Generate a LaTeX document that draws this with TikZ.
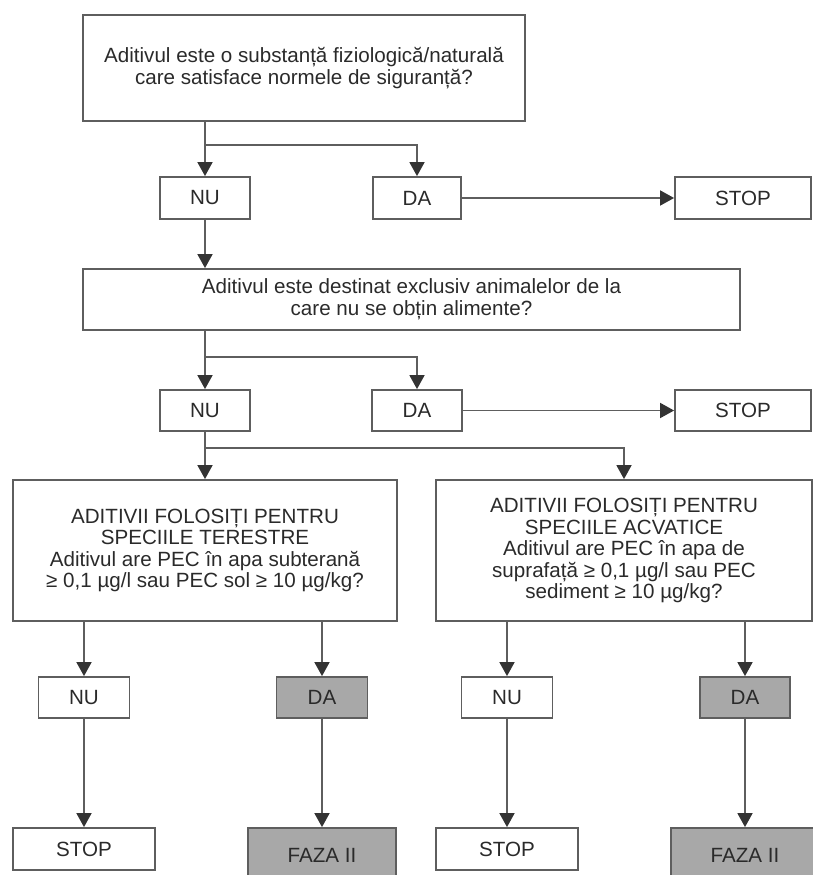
\documentclass[tikz,border=0pt]{standalone}
\usepackage{fontspec}
\setmainfont{Liberation Sans}
\usetikzlibrary{arrows.meta}
\definecolor{linegray}{HTML}{5E5E5E}
\definecolor{textgray}{HTML}{2A2A2A}
\definecolor{boxgray}{HTML}{A8A8A8}

\begin{document}
\begin{tikzpicture}[x=1pt,y=-1pt,
	box/.style={draw=linegray,line width=1.8pt,text=textgray,align=center,inner sep=0pt,font=\fontsize{20.6}{22}\selectfont},
	greybox/.style={box,fill=boxgray},
	link/.style={draw=linegray,line width=1.7pt},
	arr/.style={link,-{Triangle[width=15pt,length=14pt,color=black!80]}}]
	\useasboundingbox (0,0) rectangle (813,875);
	\node[box,minimum width=442pt,minimum height=106pt] (q1) at (304,68) {Aditivul este o substanță fiziologică/naturală\\care satisface normele de siguranță?};
	\node[box,minimum width=90pt,minimum height=42pt] (nu1) at (205,198) {NU};
	\node[box,minimum width=88pt,minimum height=42pt] (da1) at (417,198) {DA};
	\node[box,minimum width=136pt,minimum height=42pt] (stop1) at (743,198) {STOP};
	\node[box,minimum width=657pt,minimum height=61pt] (q2) at (411.5,299.5) {Aditivul este destinat exclusiv animalelor de la\\care nu se obțin alimente?};
	\node[box,minimum width=90pt,minimum height=41pt] (nu2) at (205,410.5) {NU};
	\node[box,minimum width=90pt,minimum height=41pt] (da2) at (417,410.5) {DA};
	\node[box,minimum width=136pt,minimum height=41pt] (stop2) at (743,410.5) {STOP};
	\node[box,minimum width=384pt,minimum height=141pt,font=\fontsize{20.6}{21.5}\selectfont] (terr) at (205,550.5) {ADITIVII FOLOSIȚI PENTRU\\SPECIILE TERESTRE\\Aditivul are PEC în apa subterană\\≥ 0,1 µg/l sau PEC sol ≥ 10 µg/kg?};
	\node[box,minimum width=376pt,minimum height=141pt,font=\fontsize{20.6}{21.5}\selectfont] (acv) at (624,550.5) {ADITIVII FOLOSIȚI PENTRU\\SPECIILE ACVATICE\\Aditivul are PEC în apa de\\suprafață ≥ 0,1 µg/l sau PEC\\sediment ≥ 10 µg/kg?};
	\node[box,minimum width=91pt,minimum height=41pt] (nu3) at (84,697.5) {NU};
	\node[greybox,minimum width=91pt,minimum height=41pt] (da3) at (322,697.5) {DA};
	\node[box,minimum width=142pt,minimum height=42pt] (stop3) at (84,849) {STOP};
	\node[greybox,minimum width=148pt,minimum height=54pt] (faza3) at (322,855) {FAZA II};
	\node[box,minimum width=91pt,minimum height=41pt] (nu4) at (507,697.5) {NU};
	\node[greybox,minimum width=90pt,minimum height=41pt] (da4) at (745,697.5) {DA};
	\node[box,minimum width=142pt,minimum height=42pt] (stop4) at (507,849) {STOP};
	\node[greybox,minimum width=148pt,minimum height=54pt] (faza4) at (745,855) {FAZA II};
	% branch points
	\coordinate (b1) at (205,145);
	\coordinate (b2) at (205,357);
	\coordinate (b3) at (205,448);
	\draw[link] (q1.south -| b1) -- (b1);
	\draw[arr] (b1) -- (nu1);
	\draw[arr] (b1) -| (da1);
	\draw[arr] (da1) -- (stop1);
	\draw[arr] (nu1.south) -- (nu1.south |- q2.north);
	\draw[link] (q2.south -| b2) -- (b2);
	\draw[arr] (b2) -- (nu2);
	\draw[arr] (b2) -| (da2);
	\draw[arr] (da2) -- (stop2);
	\draw[link] (nu2) -- (b3);
	\draw[arr] (b3) -- (terr);
	\draw[arr] (b3) -| (acv);
	\draw[arr] (terr.south -| nu3) -- (nu3);
	\draw[arr] (terr.south -| da3) -- (da3);
	\draw[arr] (acv.south -| nu4) -- (nu4);
	\draw[arr] (acv.south -| da4) -- (da4);
	\draw[arr] (nu3) -- (stop3);
	\draw[arr] (da3) -- (faza3);
	\draw[arr] (nu4) -- (stop4);
	\draw[arr] (da4) -- (faza4);
\end{tikzpicture}
\end{document}
